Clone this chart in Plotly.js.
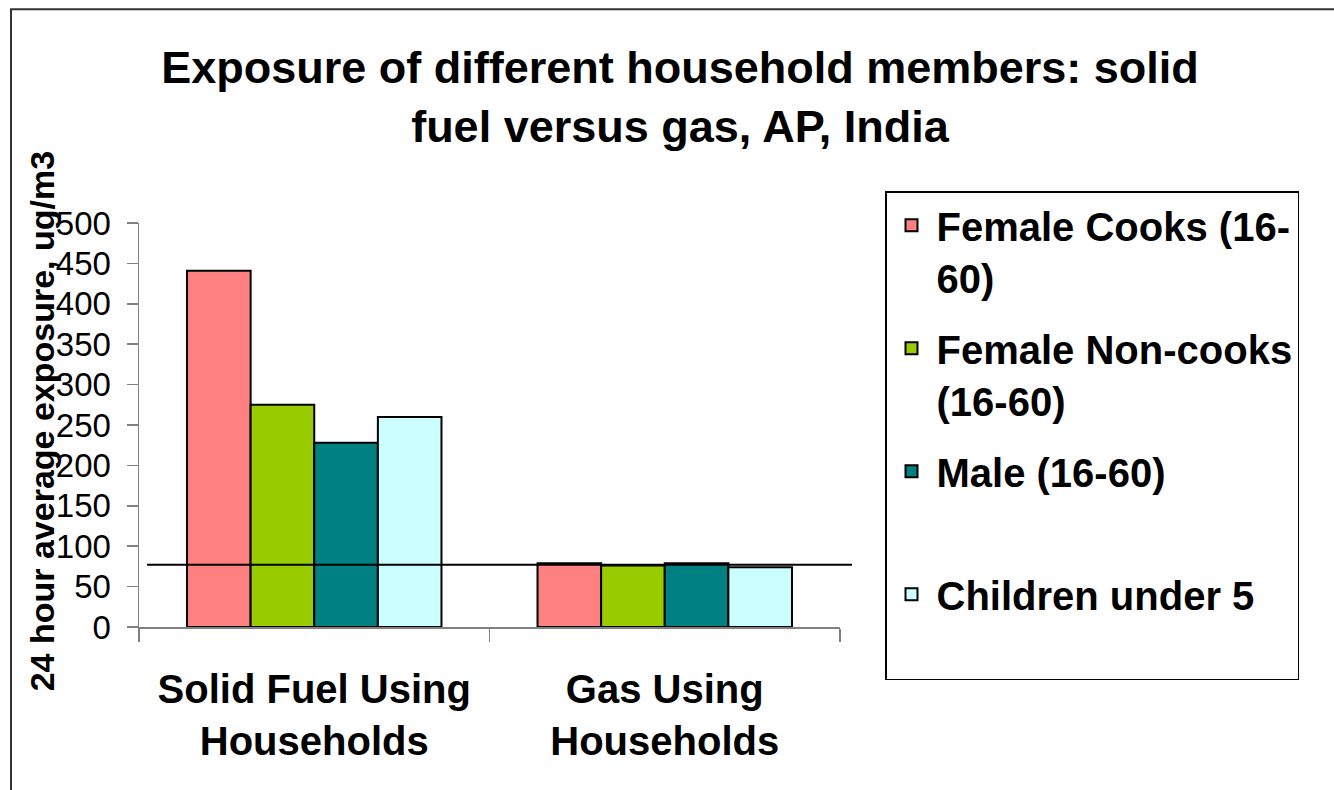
<!DOCTYPE html>
<html>
<head>
<meta charset="utf-8">
<script src="https://cdn.plot.ly/plotly-3.0.1.min.js"></script>
<style>
  html, body { margin: 0; padding: 0; background: #ffffff; }
  #chart { width: 1334px; height: 790px; }
</style>
</head>
<body>
<div id="chart"></div>
<script>
// ---- Data ----
const categories = ["Solid Fuel Using<br>Households", "Gas Using<br>Households"];
const seriesNames = ["Female Cooks (16-<br>60)", "Female Non-cooks<br>(16-60)", "Male (16-60)<br>\u00a0", "Children under 5<br>\u00a0"];
const femaleCooks = [441, 79];
const femaleNonCooks = [275, 76];
const male = [228, 79];
const children = [260, 74];
const seriesColors = ["#FF8080", "#99CC00", "#008080", "#CCFFFF"];
const referenceLevel = 77;
const yTickValues = [0, 50, 100, 150, 200, 250, 300, 350, 400, 450, 500];

// ---- Layout geometry (pixels -> paper) ----
const W = 1334, H = 790;
const plotL = 139, plotR = 840, plotT = 222.7, plotB = 626.7;
const px2x = p => (p - plotL) / (plotR - plotL);
const px2y = p => (plotB - p) / (plotB - plotT);

const FONT = "Liberation Sans, Arial, Helvetica, sans-serif";

const allValues = [femaleCooks, femaleNonCooks, male, children];
const traces = allValues.map((vals, i) => ({
  type: "bar",
  name: seriesNames[i],
  x: categories,
  y: vals,
  legendgroup: "g" + i,
  marker: { color: seriesColors[i], line: { color: "#000000", width: 2 } },
  hoverinfo: "y+name"
}));

const layout = {
  width: W, height: H,
  paper_bgcolor: "#ffffff",
  plot_bgcolor: "#ffffff",
  margin: { l: plotL, r: W - plotR, t: plotT, b: H - plotB, pad: 0 },
  barmode: "group",
  bargap: 0.274,
  bargroupgap: 0,
  font: { family: FONT, color: "#000000" },
  title: {
    text: "<b>Exposure of different household members: solid<br>fuel versus gas, AP, India</b>",
    font: { family: FONT, size: 45, color: "#000000" },
    xref: "container", yref: "container",
    x: 680 / W, xanchor: "center",
    y: 1 - 83 / H, yanchor: "top"
  },
  xaxis: {
    type: "category",
    showline: true, linecolor: "#808080", linewidth: 1.5,
    ticks: "outside", tickson: "boundaries", ticklen: 13, tickcolor: "#808080", tickwidth: 1.5,
    tickfont: { family: FONT, size: 40, color: "#000000", weight: "bold" },
    ticklabelstandoff: 26,
    showgrid: false, zeroline: false, automargin: false, fixedrange: true
  },
  yaxis: {
    range: [0, 500],
    tickvals: yTickValues,
    ticktext: yTickValues.map(String),
    showline: true, linecolor: "#808080", linewidth: 1.5,
    ticks: "outside", ticklen: 11, tickcolor: "#808080", tickwidth: 1.5,
    tickfont: { family: FONT, size: 33, color: "#000000" },
    ticklabelstandoff: 9,
    showgrid: false, zeroline: false, automargin: false, fixedrange: true
  },
  showlegend: true,
  legend: {
    x: px2x(885), xanchor: "left",
    y: px2y(191), yanchor: "top",
    xref: "paper", yref: "paper",
    bgcolor: "#ffffff",
    bordercolor: "#000000", borderwidth: 1.5,
    font: { family: FONT, size: 40, color: "#000000", weight: "bold" },
    valign: "top",
    traceorder: "grouped",
    tracegroupgap: 16,
    itemwidth: 40,
    maxheight: 700
  },
  annotations: [{
    text: "<b>24 hour average exposure, ug/m3</b>",
    textangle: -90,
    xref: "paper", yref: "paper",
    x: px2x(42), y: px2y(421),
    xanchor: "center", yanchor: "middle",
    showarrow: false,
    font: { family: FONT, size: 34, color: "#000000" }
  }],
  shapes: [
    // reference level line across the chart
    { type: "line", xref: "paper", yref: "y", x0: px2x(147), x1: px2x(852), y0: referenceLevel, y1: referenceLevel,
      line: { color: "#000000", width: 2 }, layer: "above" },
    // x-axis baseline extension to the left, under the y tick marks
    { type: "line", xref: "paper", yref: "y", x0: px2x(128), x1: 0, y0: 0, y1: 0,
      line: { color: "#808080", width: 1.5 } },
    // outer frame (top and left edges)
    { type: "line", xref: "paper", yref: "paper", x0: px2x(10), x1: px2x(1334), y0: px2y(9), y1: px2y(9),
      line: { color: "#333333", width: 2 } },
    { type: "line", xref: "paper", yref: "paper", x0: px2x(11), x1: px2x(11), y0: px2y(9), y1: px2y(790),
      line: { color: "#333333", width: 2 } }
  ]
};

Plotly.newPlot("chart", traces, layout, { displayModeBar: false, staticPlot: true });
</script>
</body>
</html>
